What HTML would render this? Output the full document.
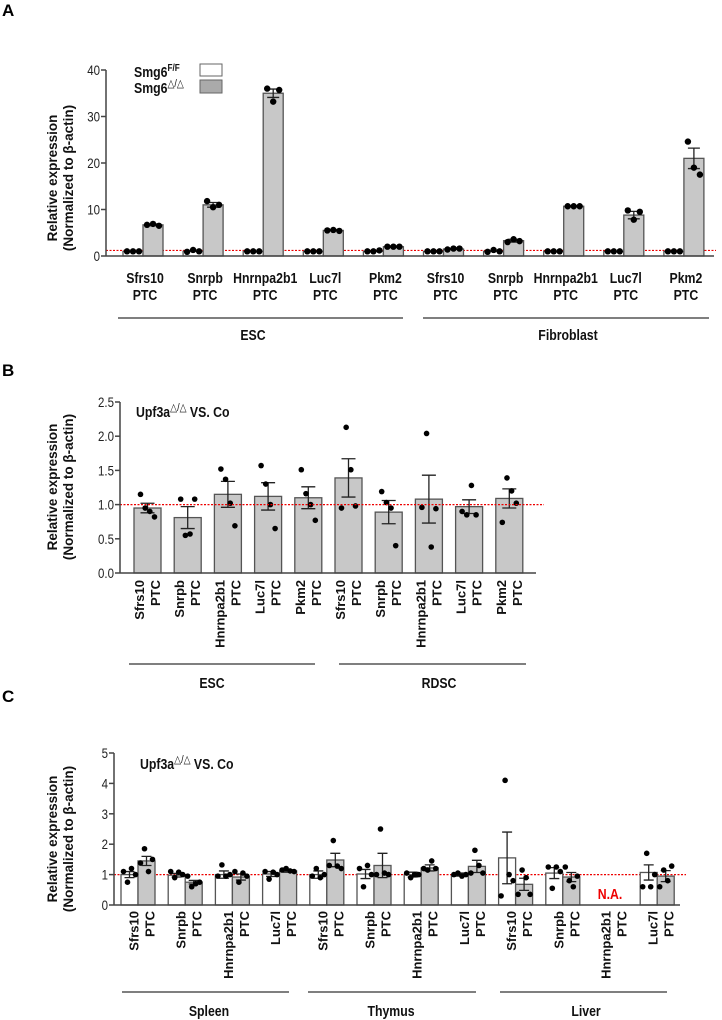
<!DOCTYPE html>
<html><head><meta charset="utf-8"><style>
html,body{margin:0;padding:0;background:#fff;}
svg{display:block;font-family:"Liberation Sans",Arial,sans-serif;}
.tick{font-size:14px;fill:#222;}
.cat{font-size:15px;font-weight:bold;fill:#111;}
.rcat{font-size:13px;font-weight:bold;fill:#111;}
.grp{font-size:15px;font-weight:bold;fill:#111;}
.ytitle{font-size:13.5px;font-weight:bold;fill:#111;}
.panel{font-size:17px;font-weight:bold;fill:#000;}
</style></head><body>
<svg id="fig" width="722" height="1020" viewBox="0 0 722 1020" xmlns="http://www.w3.org/2000/svg"></svg>
<script>
// ---------- Panel A data ----------
const catsA = ["Sfrs10","Snrpb","Hnrnpa2b1","Luc7l","Pkm2","Sfrs10","Snrpb","Hnrnpa2b1","Luc7l","Pkm2"];
const ctrlA = [1,1,1,1,1,1,1,1,1,1];
const ctrlPtsA = [[1,1,1],[0.9,1.3,1],[1,1,1],[1,1,1],[1,1,1.2],[1,1,1],[0.9,1.3,1],[1,1,1],[1,1,1],[1,1,1]];
const koA = [6.7,11,35,5.5,2,1.5,3.3,10.7,8.8,21];
const koErrA = [0.2,0.5,0.9,0.1,0.1,0.1,0.3,0.1,0.8,2.2];
const koPtsA = [[6.7,6.9,6.5],[11.8,10.5,11],[36,33.2,35.7],[5.5,5.6,5.4],[2,2,2],[1.4,1.6,1.6],[3,3.6,3.2],[10.7,10.7,10.7],[9.8,7.8,9.5],[24.6,19,17.5]];
const groupsA = ["ESC","Fibroblast"];
const ticksA = [0,10,20,30,40];
// ---------- Panel B data ----------
const catsB = ["Sfrs10","Snrpb","Hnrnpa2b1","Luc7l","Pkm2","Sfrs10","Snrpb","Hnrnpa2b1","Luc7l","Pkm2"];
const valsB = [0.95,0.81,1.15,1.12,1.10,1.39,0.89,1.08,0.97,1.09];
const errB = [0.07,0.16,0.19,0.2,0.16,0.28,0.17,0.35,0.1,0.14];
const ptsB = [[1.15,0.95,0.9,0.82],[1.08,0.55,0.57,1.08],[1.52,1.37,1.02,0.69],[1.57,1.30,1.0,0.65],[1.51,1.16,1.0,0.77],[0.95,2.13,1.51,0.98],[1.19,1.03,0.95,0.4],[0.96,2.04,0.38,0.94],[0.9,0.85,1.28,0.85],[0.74,1.39,1.2,1.02]];
const groupsB = ["ESC","RDSC"];
const ticksB = [0,0.5,1.0,1.5,2.0,2.5];
// ---------- Panel C data ----------
const catsC = ["Sfrs10","Snrpb","Hnrnpa2b1","Luc7l","Sfrs10","Snrpb","Hnrnpa2b1","Luc7l","Sfrs10","Snrpb","Hnrnpa2b1","Luc7l"];
const ctrlC = [1.0,0.98,1.0,1.02,1.0,1.02,1.0,1.0,1.55,1.05,null,1.07];
const ctrlErrC = [0.1,0.06,0.12,0.08,0.12,0.15,0.08,0.05,0.85,0.18,null,0.25];
const ctrlPtsC = [[1.1,0.75,1.2,1.0],[1.1,0.9,1.08,1.0],[0.95,1.32,0.95,1.0],[1.1,0.85,1.08,1.0],[0.95,1.2,0.9,1.0],[1.2,0.6,1.3,1.0],[1.05,0.9,1.0,1.0],[1.0,1.05,0.95,1.0],[0.3,4.1,1.0,0.8],[1.25,0.55,1.25,1.1],null,[0.6,1.7,0.6,1.0]];
const koC = [1.45,0.75,0.92,1.12,1.48,1.3,1.22,1.27,0.68,0.92,null,0.95];
const koErrC = [0.15,0.06,0.1,0.04,0.22,0.4,0.1,0.2,0.2,0.15,null,0.18];
const koPtsC = [[1.38,1.85,1.1,1.5],[0.95,0.6,0.7,0.75],[1.1,0.75,1.05,0.95],[1.15,1.2,1.12,1.1],[1.3,2.12,1.28,1.2],[1.0,2.5,1.05,1.0],[1.2,1.15,1.45,1.2],[1.05,1.8,1.3,1.05],[0.35,1.15,0.9,0.35],[1.25,0.8,0.6,0.95],null,[0.6,1.15,0.8,1.28]];
const groupsC = ["Spleen","Thymus","Liver"];
const ticksC = [0,1,2,3,4,5];

const svg = document.getElementById('fig');
const NS = "http://www.w3.org/2000/svg";
function mk(tag, attrs, parent){
  const e = document.createElementNS(NS, tag);
  for (const k in attrs) e.setAttribute(k, attrs[k]);
  (parent||svg).appendChild(e);
  return e;
}
const AX = "#444", BAR_STROKE = "#555", GRAY = "#c8c8c8";
const SX = 0.82; // narrow-font emulation

function yAxis(x, y0, y1, ticks, yFn, fmt, g){
  const l = mk('line',{x1:x,x2:x,y1:y0,y2:y1,stroke:AX,'stroke-width':1.5},g);
  
  
  ticks.forEach(t=>{
    const y = yFn(t);
    const tl = mk('line',{x1:x-5,x2:x,y1:y,y2:y,stroke:AX,'stroke-width':1.5},g);
    
    
    const tx = mk('text',{transform:`translate(${x-6},${y+5}) scale(${SX},1)`,'text-anchor':'end','class':'tick'},g);
    tx.textContent = fmt(t);
    
    
  });
}
function yTitle(cx, cy, g){
  const t = mk('text',{transform:`translate(${cx},${cy}) rotate(-90)`,'text-anchor':'middle','class':'ytitle'},g);
  
  
  const a = mk('tspan',{x:0,dy:-1},t); a.textContent='Relative expression';
  const b = mk('tspan',{x:0,dy:16},t); b.textContent='(Normalized to β-actin)';
}
function bar(x, w, yTop, yBase, fill, name, g){
  const r = mk('rect',{x:x,y:Math.min(yTop,yBase),width:w,height:Math.abs(yBase-yTop),fill:fill,stroke:BAR_STROKE,'stroke-width':1.3},g);
  
  
}
function errBar(cx, yHi, yLo, cap, g){
  const e = mk('path',{d:`M${cx-cap},${yHi}H${cx+cap}M${cx},${yHi}V${yLo}M${cx-cap},${yLo}H${cx+cap}`,stroke:'#222','stroke-width':1.3,fill:'none'},g);
  
  
}
function dots(cx, pts, spread, yFn, r, g){
  const n = pts.length;
  pts.forEach((v,i)=>{
    const off = n===1?0:(-spread + 2*spread*i/(n-1));
    const c = mk('circle',{cx:cx+off,cy:yFn(v),r:r,fill:'#000'},g);
    
    
  });
}
function redLine(x1,x2,y,g){
  const l = mk('line',{x1:x1,x2:x2,y1:y,y2:y,stroke:'#e00','stroke-width':1.2,'stroke-dasharray':'2,1.5'},g);
  
  
}
function groupLine(x1,x2,y,label,lx,ly,g){
  const l = mk('line',{x1:x1,x2:x2,y1:y,y2:y,stroke:'#555','stroke-width':1.5},g);
  
  
  const t = mk('text',{transform:`translate(${lx},${ly}) scale(${SX},1)`,'text-anchor':'middle','class':'grp'},g);
  t.textContent = label;
  
  
}
function panelLetter(txt,x,y){
  const t = mk('text',{x:x,y:y,'class':'panel'});
  t.textContent = txt;
  
  
}
function rotLabel(cx, top, name, off1, off2, g){
  const t1 = mk('text',{transform:`translate(${cx+off1},${top}) rotate(-90)`,'text-anchor':'end','dominant-baseline':'central','class':'rcat'},g);
  t1.textContent = name;
  
  
  const t2 = mk('text',{transform:`translate(${cx+off2},${top}) rotate(-90)`,'text-anchor':'end','dominant-baseline':'central','class':'rcat'},g);
  t2.textContent = 'PTC';
  
  
}
function subtitle(x,y,g){
  const t = mk('text',{transform:`translate(${x},${y}) scale(${SX},1)`,'class':'grp','font-size':'15'},g);
  
  
  const a = mk('tspan',{},t); a.textContent='Upf3a';
  const b = mk('tspan',{dy:-6,'font-size':'11','font-weight':'normal'},t); b.textContent='△/△';
  const c = mk('tspan',{dy:6},t); c.textContent='  VS. Co';
}

// ================= Panel A =================
panelLetter('A',2,16);
(function(){
  const g = mk('g',{});  
  const y = v => 256 - v*(186/40);
  const xc = i => 143 + i*60.1;
  const w = 20;
  redLine(106, 716, y(1.2), g);
  catsA.forEach((c,i)=>{
    const cx = xc(i);
    bar(cx-w, w, y(ctrlA[i]), y(0), '#fff', 'bar-control-'+c.toLowerCase(), g);
    bar(cx, w, y(koA[i]), y(0), GRAY, 'bar-smg6-ko-'+c.toLowerCase(), g);
    errBar(cx+w/2, y(koA[i]+koErrA[i]), y(koA[i]-koErrA[i]), 6, g);
    dots(cx-w/2, ctrlPtsA[i], 6, y, 3.2, g);
    dots(cx+w/2, koPtsA[i], 6, y, 3.2, g);
    const t = mk('text',{transform:`translate(${cx+2},283) scale(${SX},1)`,'text-anchor':'middle','class':'cat'},g);
    
    
    const a = mk('tspan',{x:0},t); a.textContent = c;
    const b = mk('tspan',{x:0,dy:17},t); b.textContent = 'PTC';
  });
  const xa = mk('line',{x1:106,x2:714,y1:y(0),y2:y(0),stroke:AX,'stroke-width':1.5},g);
   
  yAxis(106, y(0), y(40), ticksA, y, t=>String(t), g);
  yTitle(58, 178, g);
  groupLine(118,403,318,groupsA[0],253,340,g);
  groupLine(423,709,318,groupsA[1],568,340,g);
  // legend
  const l1 = mk('text',{transform:`translate(134,77) scale(${SX},1)`,'class':'grp','font-size':'15'},g);
   
  const l1a = mk('tspan',{},l1); l1a.textContent='Smg6';
  const l1b = mk('tspan',{dy:-6,'font-size':'10'},l1); l1b.textContent='F/F';
  const r1 = mk('rect',{x:200,y:64,width:22,height:12,fill:'#fff',stroke:'#666','stroke-width':1},g);
   
  const l2 = mk('text',{transform:`translate(134,93) scale(${SX},1)`,'class':'grp','font-size':'15'},g);
   
  const l2a = mk('tspan',{},l2); l2a.textContent='Smg6';
  const l2b = mk('tspan',{dy:-6,'font-size':'11','font-weight':'normal'},l2); l2b.textContent='△/△';
  const r2 = mk('rect',{x:200,y:80,width:22,height:13,fill:'#aaa',stroke:'#666','stroke-width':1},g);
   
})();

// ================= Panel B =================
panelLetter('B',2,376);
(function(){
  const g = mk('g',{});  
  const y = v => 573 - v*(171/2.5);
  const xc = i => 147.5 + i*40.2;
  const w = 27;
  catsB.forEach((c,i)=>{
    const cx = xc(i);
    bar(cx-w/2, w, y(valsB[i]), y(0), GRAY, 'bar-'+c.toLowerCase(), g);
    errBar(cx, y(valsB[i]+errB[i]), y(valsB[i]-errB[i]), 7, g);
    dots(cx, ptsB[i], 7, y, 2.8, g);
    rotLabel(cx, 580, c, -8, 8, g);
  });
  redLine(120, 544, y(1), g);
  const xa = mk('line',{x1:120,x2:536,y1:y(0),y2:y(0),stroke:AX,'stroke-width':1.5},g);
   
  yAxis(120, y(0), y(2.5), ticksB, y, t=>t.toFixed(1), g);
  yTitle(58, 487, g);
  subtitle(136, 417, g);
  groupLine(129,315,664,groupsB[0],212,688,g);
  groupLine(339,526,664,groupsB[1],439,688,g);
})();

// ================= Panel C =================
panelLetter('C',2,702);
(function(){
  const g = mk('g',{});  
  const y = v => 905 - v*(152/5);
  const xc = i => 138 + i*47.2;
  const w = 17;
  redLine(114, 686, y(1), g);
  catsC.forEach((c,i)=>{
    const cx = xc(i);
    if (ctrlC[i] !== null){
      bar(cx-w, w, y(ctrlC[i]), y(0), '#fff', 'bar-control-'+c.toLowerCase(), g);
      bar(cx, w, y(koC[i]), y(0), GRAY, 'bar-upf3a-ko-'+c.toLowerCase(), g);
      errBar(cx-w/2, y(ctrlC[i]+ctrlErrC[i]), y(ctrlC[i]-ctrlErrC[i]), 5, g);
      errBar(cx+w/2, y(koC[i]+koErrC[i]), y(koC[i]-koErrC[i]), 5, g);
      dots(cx-w/2, ctrlPtsC[i], 6, y, 2.8, g);
      dots(cx+w/2, koPtsC[i], 6, y, 2.8, g);
    } else {
      const na = mk('text',{transform:`translate(${cx},${y(0)-6}) scale(${SX},1)`,'text-anchor':'middle','class':'grp','font-size':'18'},g);
      na.style.fill = '#e00';
      na.textContent = 'N.A.';
      
      
    }
    rotLabel(cx, 911, c, -4, 12, g);
  });
  const xa = mk('line',{x1:114,x2:680,y1:y(0),y2:y(0),stroke:AX,'stroke-width':1.5},g);
   
  yAxis(114, y(0), y(5), ticksC, y, t=>String(t), g);
  yTitle(58, 839, g);
  subtitle(140, 769, g);
  groupLine(122,289,992,groupsC[0],209,1016,g);
  groupLine(308,476,992,groupsC[1],391,1016,g);
  groupLine(500,667,992,groupsC[2],586,1016,g);
})();
</script>
</body></html>
